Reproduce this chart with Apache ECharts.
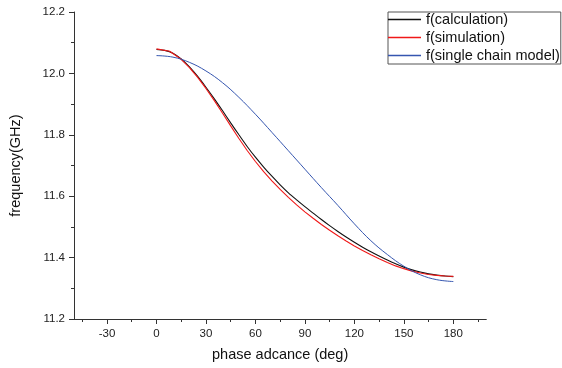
<!DOCTYPE html>
<html>
<head>
<meta charset="utf-8">
<script src="https://cdn.jsdelivr.net/npm/echarts@6/dist/echarts.min.js"></script>
<style>
html,body{margin:0;padding:0;background:#fff;}
#chart{width:562px;height:368px;}
</style>
</head>
<body>
<div id="chart"></div>
<script>
// Data
const seriesNames = ['f(calculation)', 'f(simulation)', 'f(single chain model)'];
const seriesColors = ['#111111', '#f01818', '#3556b0'];

const calcPhase = [0,5,10,15,20,25,30,35,40,45,50,55,60,65,70,75,80,85,90,95,100,105,110,115,120,125,130,135,140,145,150,155,160,165,170,175,180];
const calcFreq  = [12.078,12.075,12.066,12.047,12.021,11.990,11.955,11.918,11.879,11.839,11.800,11.762,11.727,11.695,11.665,11.637,11.611,11.588,11.566,11.545,11.524,11.504,11.485,11.467,11.450,11.434,11.419,11.405,11.392,11.380,11.369,11.360,11.353,11.347,11.343,11.340,11.338];

const simPhase = [0,8,15,20,25,30,35,40,45,50,55,60,65,70,75,80,85,90,95,100,105,110,115,120,125,130,135,140,145,150,155,160,165,170,175,180];
const simFreq  = [12.080,12.072,12.046,12.019,11.987,11.951,11.912,11.871,11.829,11.788,11.749,11.713,11.680,11.650,11.622,11.596,11.572,11.549,11.528,11.508,11.489,11.471,11.454,11.438,11.423,11.409,11.396,11.384,11.373,11.364,11.356,11.350,11.345,11.342,11.340,11.339];

const chainPhase = [0,10,20,30,40,50,60,70,80,90,100,110,120,130,140,150,160,170,180];
const chainFreq  = [12.058,12.053,12.036,12.008,11.970,11.922,11.867,11.808,11.748,11.688,11.628,11.570,11.510,11.455,11.410,11.372,11.344,11.328,11.322];

const xMajorTicks = [-30,0,30,60,90,120,150,180];
const xMinorTicks = [-45,-15,15,45,75,105,135,165,195];

const pairs = (xs, ys) => xs.map((x, i) => [x, ys[i]]);

const FONT = '"Liberation Sans", Arial, sans-serif';
const AX = '#333';

const chart = echarts.init(document.getElementById('chart'), null, {renderer: 'canvas'});
chart.setOption({
  animation: false,
  backgroundColor: '#fff',
  grid: {left: 73.7, right: 75.7, top: 12, bottom: 49, containLabel: false},
  legend: {
    orient: 'vertical',
    left: 388, top: 12,
    padding: [0, 1, 1, 0],
    itemGap: 3,
    itemWidth: 33, itemHeight: 1.5,
    icon: 'rect',
    borderColor: '#555', borderWidth: 1,
    textStyle: {fontFamily: FONT, fontSize: 14.5, color: '#111', lineHeight: 15},
    data: seriesNames.map((n, i) => ({name: n, itemStyle: {color: seriesColors[i]}}))
  },
  xAxis: [{
    type: 'value', min: -50, max: 200,
    name: 'phase adcance (deg)', nameLocation: 'middle', nameGap: 28,
    nameTextStyle: {fontFamily: FONT, fontSize: 14.5, color: '#111'},
    axisLine: {show: true, onZero: false, lineStyle: {color: AX, width: 1}},
    axisTick: {show: true, inside: false, length: 5, customValues: xMajorTicks, lineStyle: {color: AX}},
    axisLabel: {show: true, margin: 9, customValues: xMajorTicks, fontFamily: FONT, fontSize: 11.5, color: '#222'},
    splitLine: {show: false}
  }, {
    type: 'value', min: -50, max: 200, position: 'bottom',
    axisLine: {show: false, onZero: false},
    axisTick: {show: true, inside: false, length: 3, customValues: xMinorTicks, lineStyle: {color: AX}},
    axisLabel: {show: false},
    splitLine: {show: false}
  }],
  yAxis: {
    type: 'value', min: 11.2, max: 12.2, interval: 0.2,
    name: 'frequency(GHz)', nameLocation: 'middle', nameGap: 51, nameRotate: 90,
    nameTextStyle: {fontFamily: FONT, fontSize: 14.5, color: '#111'},
    axisLine: {show: true, onZero: false, lineStyle: {color: AX, width: 1}},
    axisTick: {show: true, inside: false, length: 5, lineStyle: {color: AX}},
    minorTick: {show: true, splitNumber: 2, length: 3, lineStyle: {color: AX}},
    axisLabel: {margin: 9, fontFamily: FONT, fontSize: 11.5, color: '#222', formatter: v => v.toFixed(1)},
    splitLine: {show: false}
  },
  series: seriesNames.map((n, i) => ({
    name: n, type: 'line', xAxisIndex: 0,
    data: [pairs(calcPhase, calcFreq), pairs(simPhase, simFreq), pairs(chainPhase, chainFreq)][i],
    showSymbol: false, smooth: [0.3, false, 0.4][i],
    lineStyle: {color: seriesColors[i], width: i === 2 ? 1 : 1.1},
    itemStyle: {color: seriesColors[i]}
  }))
});
</script>
</body>
</html>
